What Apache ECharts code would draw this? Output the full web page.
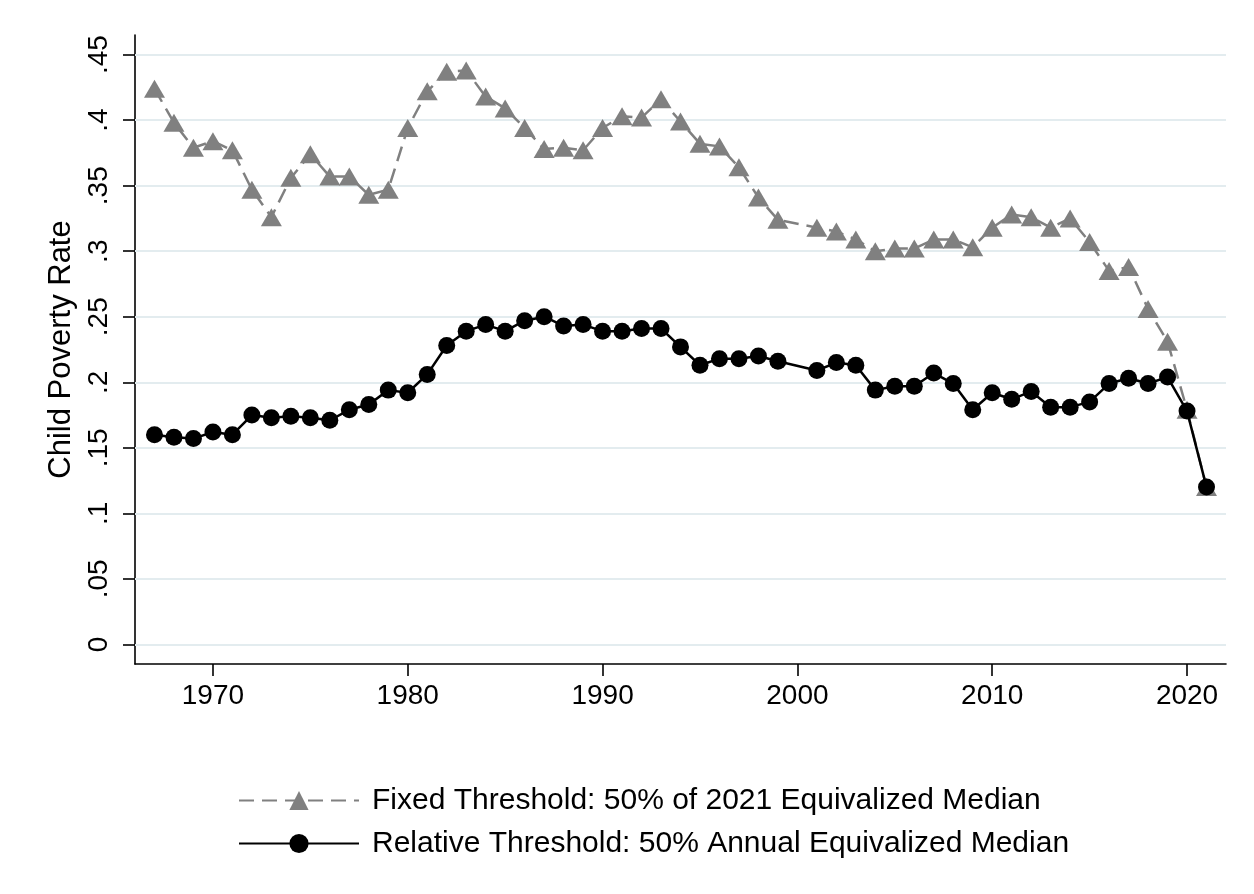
<!DOCTYPE html>
<html>
<head>
<meta charset="utf-8">
<script src="https://cdn.jsdelivr.net/npm/echarts@6/dist/echarts.min.js"></script>
<style>
  html, body { margin: 0; padding: 0; background: #ffffff; }
  #chart { width: 1254px; height: 894px; }
</style>
</head>
<body>
<div id="chart"></div>
<script>
// ---- Data ----
const years = [1967,1968,1969,1970,1971,1972,1973,1974,1975,1976,1977,1978,1979,1980,
  1981,1982,1983,1984,1985,1986,1987,1988,1989,1990,1991,1992,1993,1994,1995,1996,1997,
  1998,1999,2001,2002,2003,2004,2005,2006,2007,2008,2009,2010,2011,2012,2013,2014,2015,
  2016,2017,2018,2019,2020,2021];

const fixedRate = [0.424,0.398,0.379,0.384,0.377,0.347,0.326,0.356,0.374,0.357,0.357,0.343,0.347,0.394,
  0.422,0.437,0.438,0.418,0.409,0.394,0.378,0.379,0.377,0.394,0.403,0.402,0.416,0.399,0.382,0.380,0.364,
  0.341,0.324,0.318,0.315,0.309,0.300,0.302,0.302,0.309,0.309,0.303,0.318,0.328,0.326,0.318,0.325,0.307,
  0.285,0.288,0.256,0.231,0.179,0.120];

const relativeRate = [0.160,0.158,0.157,0.162,0.160,0.175,0.173,0.174,0.173,0.171,0.179,0.183,0.194,0.192,
  0.206,0.228,0.239,0.244,0.239,0.247,0.250,0.243,0.244,0.239,0.239,0.241,0.241,0.227,0.213,0.218,0.218,
  0.220,0.216,0.209,0.215,0.213,0.194,0.197,0.197,0.207,0.199,0.179,0.192,0.187,0.193,0.181,0.181,0.185,
  0.199,0.203,0.199,0.204,0.178,0.120];

const xTicks = [1970,1980,1990,2000,2010,2020];
const yTicks = [0,0.05,0.1,0.15,0.2,0.25,0.3,0.35,0.4,0.45];
const yTickLabels = ['0','.05','.1','.15','.2','.25','.3','.35','.4','.45'];

const seriesNames = [
  'Fixed Threshold: 50% of 2021 Equivalized Median',
  'Relative Threshold: 50% Annual Equivalized Median'
];
const yTitle = 'Child Poverty Rate';

// ---- Build ----
const fixedPts = years.map((y, i) => [y, fixedRate[i]]);
const relPts = years.map((y, i) => [y, relativeRate[i]]);

const FONT = 'Liberation Sans, Arial, sans-serif';
const chart = echarts.init(document.getElementById('chart'), null, { renderer: 'canvas' });

chart.setOption({
  backgroundColor: '#ffffff',
  animation: false,
  grid: { left: 135, right: 28, top: 35, bottom: 230, containLabel: false },
  xAxis: {
    type: 'value',
    min: 1966, max: 2022,
    axisLine: { show: true, onZero: false, lineStyle: { color: '#000', width: 1.6 } },
    axisTick: { show: true, customValues: xTicks, length: 12, lineStyle: { color: '#000', width: 1.6 } },
    axisLabel: { customValues: xTicks, margin: 18, color: '#000', fontSize: 28, fontFamily: FONT,
      formatter: v => String(v) },
    splitLine: { show: false }
  },
  yAxis: {
    type: 'value',
    min: -0.015, max: 0.465,
    name: yTitle,
    nameLocation: 'middle',
    nameRotate: 90,
    nameGap: 58,
    nameTextStyle: { color: '#000', fontSize: 31, fontFamily: FONT },
    axisLine: { show: true, onZero: false, lineStyle: { color: '#000', width: 1.6 } },
    axisTick: { show: true, customValues: yTicks, length: 12, lineStyle: { color: '#000', width: 1.6 } },
    axisLabel: { customValues: yTicks, rotate: 90, margin: 22, color: '#000', fontSize: 28, fontFamily: FONT,
      formatter: v => {
        const idx = yTicks.findIndex(t => Math.abs(t - v) < 1e-9);
        return idx >= 0 ? yTickLabels[idx] : '';
      } },
    splitLine: { show: false }
  },
  legend: {
    orient: 'vertical',
    left: 233, top: 779,
    itemWidth: 120, itemHeight: 24,
    itemGap: 10,
    textStyle: { color: '#000', fontSize: 30, fontFamily: FONT, lineHeight: 33, padding: [0, 0, 0, 8] },
    data: seriesNames
  },
  series: [
    {
      name: seriesNames[0],
      type: 'line',
      data: fixedPts,
      symbol: 'triangle',
      symbolSize: [21, 18],
      itemStyle: { color: '#808080' },
      lineStyle: { color: '#808080', width: 2.5, type: [15, 8] },
      z: 3,
      markLine: {
        silent: true,
        symbol: 'none',
        label: { show: false },
        lineStyle: { color: '#E3ECEF', width: 1.8, type: 'solid' },
        data: yTicks.map(t => ({ yAxis: t })),
        z: 1
      }
    },
    {
      name: seriesNames[1],
      type: 'line',
      data: relPts,
      symbol: 'circle',
      symbolSize: 17,
      itemStyle: { color: '#000000' },
      lineStyle: { color: '#000000', width: 2.5 },
      z: 4
    }
  ]
});
</script>
</body>
</html>
